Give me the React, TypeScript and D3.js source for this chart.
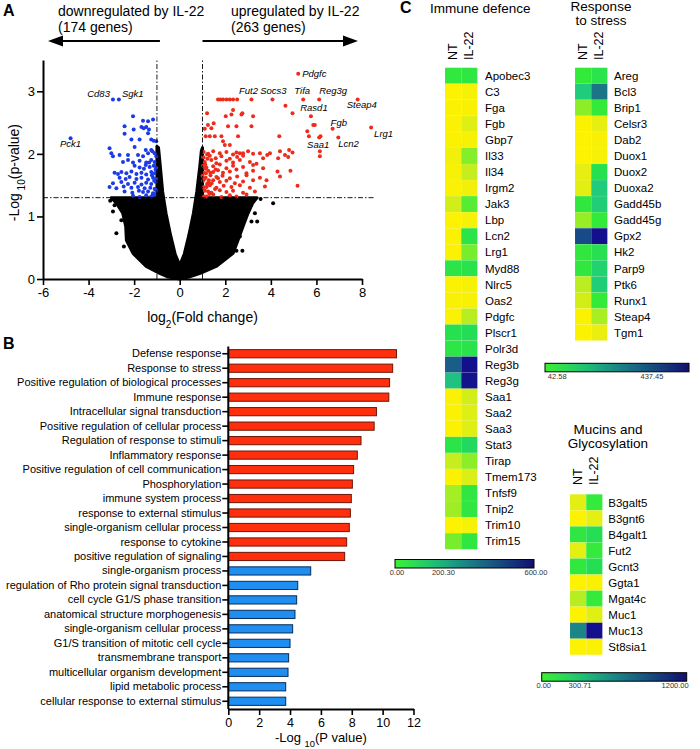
import React, { useEffect, useRef } from 'react';
import * as d3 from 'd3';

const FONT = 'Arial, "Liberation Sans", Helvetica, sans-serif';

// ---------------- A: volcano plot ----------------
const fcTicks = [-6, -4, -2, 0, 2, 4, 6, 8];
const pTicks = [0, 1, 2, 3];
const fcCut = 1;
const pCut = 1.3;

// outline of the dense cloud of non-significant genes [log2 FC, -log10 p]
const cloudOutline: [number, number][] = [
  [0, 0], [-0.5, 0.03], [-0.88, 0.09], [-1.47, 0.2], [-2.05, 0.41], [-2.34, 0.62], [-2.37, 0.84],
  [-2.5, 1.05], [-2.78, 1.21], [-3.0, 1.3], [-1.0, 1.3], [-1.0, 2.12], [-0.93, 2.1], [-0.85, 1.8],
  [-0.75, 1.4], [-0.6, 1.05], [-0.4, 0.7], [-0.2, 0.4], [0, 0.22], [0.2, 0.4], [0.4, 0.7],
  [0.6, 1.05], [0.75, 1.4], [0.88, 1.8], [0.95, 2.05], [1.0, 2.1], [1.0, 1.3], [3.4, 1.3],
  [3.2, 1.21], [3.0, 1.05], [2.78, 0.84], [2.56, 0.62], [2.34, 0.41], [1.6, 0.2], [0.9, 0.09], [0.4, 0.03],
];

// scattered non-significant genes outside the cloud
const otherGenes: [number, number][] = [
  [-2.78, 0.73], [-2.93, 1.08], [-2.86, 1.18], [-2.56, 0.94], [-2.45, 0.52], [-3.05, 1.25], [-2.6, 1.15],
  [4.1, 1.21], [3.15, 0.92], [3.4, 0.92], [2.75, 0.45], [2.49, 0.45], [3.3, 1.05], [2.64, 0.68], [3.55, 1.28],
];

const upGenes: [number, number][] = [
  [1.68, 2.87], [1.79, 2.87], [1.9, 2.87], [2.05, 2.87], [2.2, 2.87], [2.34, 2.87], [2.52, 2.87],
  [4.64, 2.77], [4.95, 2.65], [2.34, 2.7], [2.02, 2.6], [2.27, 2.63], [2.71, 2.63], [3.22, 2.6],
  [1.49, 2.49], [2.12, 2.44], [2.49, 2.44], [3.15, 2.44], [1.2, 2.65], [2.75, 2.65],
  [1.1, 2.4], [1.24, 2.46], [1.39, 2.41], [1.14, 2.28], [1.32, 2.28], [1.54, 2.28], [1.83, 2.28],
  [2.56, 2.28], [4.37, 2.28], [1.9, 2.2], [1.98, 2.14], [2.2, 2.14],
  [5.86, 2.46], [5.93, 2.46], [5.6, 2.36], [5.67, 2.28], [6.18, 2.28], [6.15, 2.04], [6.15, 1.96],
  [2.64, 2.01], [2.78, 2.01], [3.52, 2.01], [3.96, 2.01], [4.4, 2.04], [4.8, 2.06], [3.66, 1.93],
  [3.84, 1.98], [4.32, 1.93], [4.62, 1.98], [4.95, 2.02], [4.76, 1.95], [4.29, 1.72], [4.4, 1.64],
  [4.86, 1.73], [5.17, 1.49], [3.81, 1.58], [3.66, 1.77],
  [1.05, 2.03], [1.25, 2.0], [1.47, 2.04], [1.76, 2.01], [2.05, 2.03], [2.34, 1.99], [2.49, 2.02], [3.0, 2.04], [3.22, 2.0],
  [1.05, 1.94], [1.32, 1.97], [1.58, 1.93], [1.83, 1.96], [2.2, 1.92], [2.52, 1.95], [2.78, 1.97],
  [1.1, 1.87], [1.39, 1.9], [1.61, 1.85], [2.05, 1.89], [2.34, 1.86], [2.64, 1.9], [3.08, 1.87], [3.37, 1.84],
  [1.03, 1.81], [1.17, 1.78], [1.47, 1.8], [1.76, 1.83], [2.05, 1.77], [2.34, 1.81], [2.78, 1.79], [3.22, 1.82],
  [1.05, 1.7], [1.25, 1.73], [1.47, 1.71], [1.68, 1.74], [1.9, 1.7], [2.2, 1.72], [2.49, 1.75], [2.93, 1.69], [3.22, 1.73],
  [1.0, 1.65], [1.14, 1.62], [1.35, 1.66], [1.61, 1.63], [1.88, 1.65], [2.2, 1.61], [2.52, 1.64], [2.93, 1.66], [3.52, 1.62],
  [1.03, 1.57], [1.25, 1.54], [1.47, 1.58], [1.76, 1.55], [2.05, 1.57], [2.42, 1.53], [2.78, 1.56], [3.22, 1.58],
  [1.05, 1.47], [1.32, 1.5], [1.61, 1.46], [1.93, 1.49], [2.27, 1.47], [2.64, 1.5], [3.08, 1.46], [3.74, 1.48],
  [1.1, 1.41], [1.39, 1.38], [1.76, 1.42], [2.05, 1.39], [2.34, 1.41], [2.78, 1.38], [3.3, 1.4],
  [1.17, 1.32], [1.47, 1.35], [1.83, 1.31], [2.2, 1.34], [2.49, 1.32], [2.93, 1.35],
  [1.12, 1.76], [1.2, 1.52], [1.08, 1.6], [1.15, 1.69], [1.22, 1.92], [1.3, 1.36],
  [1.08, 1.42], [1.18, 1.47], [1.28, 1.58], [1.12, 1.83], [1.35, 1.7], [1.02, 1.95], [1.2, 1.99], [1.4, 1.53],
  [1.25, 1.4], [1.07, 1.32], [1.55, 1.44], [1.68, 1.61], [1.58, 1.75],
];

const downGenes: [number, number][] = [
  [-2.05, 2.6], [-1.17, 2.55], [-1.39, 2.52], [-1.61, 2.53], [-2.42, 2.44], [-2.02, 2.39], [-1.68, 2.43],
  [-1.58, 2.41], [-1.47, 2.43], [-1.35, 2.39], [-2.42, 2.32], [-1.39, 2.33], [-2.12, 2.23], [-1.76, 2.23],
  [-1.25, 2.23], [-1.14, 2.21], [-1.03, 2.2], [-3.08, 2.09], [-1.98, 2.11], [-1.49, 2.06], [-1.25, 2.06],
  [-3.0, 2.01], [-2.93, 1.96], [-2.64, 1.98], [-2.27, 1.98], [-1.83, 1.98], [-1.61, 1.96], [-1.39, 2.01],
  [-1.2, 2.04], [-1.1, 2.01], [-1.03, 1.96],
  [-2.49, 1.87], [-2.27, 1.9], [-2.05, 1.86], [-1.76, 1.89], [-1.47, 1.86], [-1.25, 1.9], [-1.1, 1.87],
  [-1.98, 1.81], [-1.76, 1.78], [-1.49, 1.82], [-1.32, 1.79], [-1.14, 1.81], [-1.03, 1.78],
  [-2.86, 1.7], [-2.71, 1.68], [-2.56, 1.71], [-2.34, 1.69], [-2.12, 1.72], [-1.9, 1.68], [-1.68, 1.7], [-1.47, 1.67], [-1.25, 1.71], [-1.1, 1.69],
  [-2.64, 1.62], [-2.37, 1.6], [-2.2, 1.63], [-1.9, 1.6], [-1.68, 1.62], [-1.39, 1.59], [-1.17, 1.62], [-1.03, 1.6],
  [-2.93, 1.53], [-2.56, 1.55], [-2.27, 1.52], [-1.98, 1.54], [-1.68, 1.51], [-1.47, 1.54], [-1.25, 1.52], [-1.05, 1.55],
  [-3.08, 1.47], [-2.78, 1.45], [-2.46, 1.48], [-2.12, 1.46], [-1.83, 1.47], [-1.54, 1.45], [-1.29, 1.46], [-1.1, 1.44],
  [-2.42, 1.4], [-2.08, 1.38], [-1.79, 1.41], [-1.61, 1.39], [-1.39, 1.4], [-1.17, 1.37], [-1.03, 1.41],
  [-2.05, 1.33], [-1.76, 1.31], [-1.47, 1.34], [-1.25, 1.32], [-1.1, 1.35],
  [-1.06, 1.75], [-1.12, 1.57], [-1.08, 1.44], [-1.18, 1.36], [-1.22, 1.66], [-1.34, 1.86], [-1.57, 1.76],
];

const namedGenes = ['Pdgfc', 'Fut2', 'Socs3', 'Tifa', 'Reg3g', 'Steap4', 'Rasd1', 'Fgb', 'Saa1', 'Lcn2', 'Lrg1', 'Pck1', 'Cd83', 'Sgk1'];
const namedFC = [5.2, 3.15, 4.07, 5.42, 6.12, 7.81, 5.76, 6.71, 6.12, 6.96, 8.4, -4.79, -2.93, -2.67];
const namedP = [3.28, 2.87, 2.87, 2.87, 2.87, 2.87, 2.6, 2.4, 2.26, 2.26, 2.42, 2.25, 2.87, 2.87];
// label placement relative to the point
const namedPos: Record<string, [number, number, string]> = {
  Pdgfc: [4, 3, 'start'], Fut2: [-3, -5, 'middle'], Socs3: [1, -5, 'middle'], Tifa: [-1, -5, 'middle'],
  Reg3g: [0, -5, 'start'], Steap4: [-11, 9, 'start'], Rasd1: [3, -5, 'middle'], Fgb: [-2, -3, 'start'],
  Saa1: [-1, 10, 'middle'], Lcn2: [0, 9, 'start'], Lrg1: [3, 9, 'start'], Pck1: [0, 9, 'middle'],
  Cd83: [-3, -2, 'end'], Sgk1: [3, -2, 'start'],
};

// ---------------- B: GO enrichment ----------------
const goTerms = [
  'Defense response', 'Response to stress', 'Positive regulation of biological processes', 'Immune response',
  'Intracellular signal transduction', 'Positive regulation of cellular process', 'Regulation of response to stimuli',
  'Inflammatory response', 'Positive regulation of cell communication', 'Phosphorylation ', 'immune system process',
  'response to external stimulus', 'single-organism cellular process', 'response to cytokine',
  'positive regulation of signaling', 'single-organism process', 'regulation of Rho protein signal transduction',
  'cell cycle G1/S phase transition', 'anatomical structure morphogenesis', 'single-organism cellular process',
  'G1/S transition of mitotic cell cycle', 'transmembrane transport', 'multicellular organism development',
  'lipid metabolic process', 'cellular response to external stimulus',
];
const goScore = [10.9, 10.65, 10.45, 10.4, 9.6, 9.45, 8.6, 8.36, 8.12, 8.04, 7.97, 7.91, 7.84, 7.67, 7.54,
  5.34, 4.5, 4.43, 4.32, 4.17, 4.0, 3.91, 3.87, 3.72, 3.72];
const goDir = ['up', 'up', 'up', 'up', 'up', 'up', 'up', 'up', 'up', 'up', 'up', 'up', 'up', 'up', 'up',
  'down', 'down', 'down', 'down', 'down', 'down', 'down', 'down', 'down', 'down'];
const goTicks = [0, 2, 4, 6, 8, 10, 12];

// ---------------- C: heatmaps ----------------
const conditions = ['NT', 'IL-22'];

const immuneGenes = ['Apobec3', 'C3', 'Fga', 'Fgb', 'Gbp7', 'Il33', 'Il34', 'Irgm2', 'Jak3', 'Lbp', 'Lcn2', 'Lrg1',
  'Myd88', 'Nlrc5', 'Oas2', 'Pdgfc', 'Plscr1', 'Polr3d', 'Reg3b', 'Reg3g', 'Saa1', 'Saa2', 'Saa3', 'Stat3', 'Tirap',
  'Tmem173', 'Tnfsf9', 'Tnip2', 'Trim10', 'Trim15'];
const immuneNT = [90, 2, 3, 4, 3, 12, 6, 4, 30, 2, 3, 4, 100, 3, 5, 4, 110, 98, 380, 190, 4, 3, 3, 100, 36, 4, 50, 52, 2, 66];
const immuneIL22 = [95, 8, 5, 22, 6, 62, 36, 10, 75, 8, 100, 66, 105, 6, 6, 42, 118, 105, 600, 590, 30, 24, 22, 130, 60, 26, 92, 95, 8, 94];
const immuneTicks = [0, 200.3, 600];

const stressGenes = ['Areg', 'Bcl3', 'Brip1', 'Celsr3', 'Dab2', 'Duox1', 'Duox2', 'Duoxa2', 'Gadd45b', 'Gadd45g',
  'Gpx2', 'Hk2', 'Parp9', 'Ptk6', 'Runx1', 'Steap4', 'Tgm1'];
const stressNT = [62, 122, 44, 2, 1, 1, 14, 15, 66, 40, 315, 66, 66, 30, 22, 2, 2];
const stressIL22 = [75, 240, 62, 14, 4, 5, 80, 122, 118, 62, 437.45, 80, 110, 118, 62, 35, 12];
const stressTicks = [42.58, 437.45];

const mucinGenes = ['B3galt5', 'B3gnt6', 'B4galt1', 'Fut2', 'Gcnt3', 'Ggta1', 'Mgat4c', 'Muc1', 'Muc13', 'St8sia1'];
const mucinNT = [42, 5, 190, 40, 180, 5, 84, 5, 600, 5];
const mucinIL22 = [168, 40, 228, 168, 228, 10, 168, 45, 1200, 8];
const mucinTicks = [0, 300.71, 1200];

const heatColor = d3.scaleLinear<string>()
  .domain([0, 0.03, 0.06, 0.1, 0.14, 0.2, 0.3, 0.6, 1])
  .range(['#fff200', '#e8ef10', '#c6ee1e', '#8cee28', '#34ea3a', '#22dc58', '#20c884', '#1a6488', '#140f8c'])
  .clamp(true);
const barColor = d3.interpolateRgbBasis(['#3cf030', '#1ecc78', '#1a8488', '#184c80', '#120f70']);

function addSubText(sel: any, parts: [string, boolean][]) {
  parts.forEach(([t, sub]) => {
    const ts = sel.append('tspan').text(t);
    if (sub) ts.attr('baseline-shift', 'sub').attr('font-size', '0.72em');
  });
}

function styleAxis(g: any, fontSize: number) {
  g.select('.domain').attr('stroke', '#000').attr('stroke-width', 2);
  g.selectAll('.tick line').attr('stroke', '#000').attr('stroke-width', 1.6);
  g.selectAll('.tick text').attr('fill', '#000').attr('font-size', fontSize).attr('font-family', FONT);
}

function drawHeatmap(svg: any, defs: any, id: string, genes: string[], nt: number[], il22: number[],
  lay: any) {
  const max = d3.max(il22.concat(nt)) as number;
  const g = svg.append('g');
  const x = d3.scaleBand().domain(conditions).range([lay.x0, lay.x0 + 32.4]);
  const y = d3.scaleBand().domain(genes).range([lay.y0, lay.y0 + genes.length * 16.05]);
  const cells = genes.flatMap((gene, i) => [
    { gene, cond: 'NT', v: nt[i] },
    { gene, cond: 'IL-22', v: il22[i] },
  ]);
  g.selectAll('rect.cell').data(cells).join('rect')
    .attr('x', (d: any) => x(d.cond))
    .attr('y', (d: any) => y(d.gene))
    .attr('width', x.bandwidth())
    .attr('height', y.bandwidth())
    .attr('fill', (d: any) => heatColor(d.v / max))
    .attr('stroke', 'rgba(255,255,255,0.12)')
    .attr('stroke-width', 0.5);

  g.selectAll('text.gene').data(genes).join('text')
    .attr('x', lay.labelX)
    .attr('y', (d: string) => (y(d) as number) + y.bandwidth() / 2 + 4.2)
    .attr('font-size', 11.5)
    .text((d: string) => d);

  g.selectAll('text.cond').data(conditions).join('text')
    .attr('transform', (d: string) => `translate(${(x(d) as number) + x.bandwidth() / 2 + 3.5},${lay.headY}) rotate(-90)`)
    .attr('font-size', 12.5)
    .text((d: string) => d);

  lay.title.forEach((t: string, i: number) => {
    g.append('text').attr('x', lay.titleX).attr('y', lay.titleY + i * 14.2)
      .attr('text-anchor', lay.titleAnchor).attr('font-size', 13.5).text(t);
  });

  // colour bar
  const cb = d3.scaleLinear().domain(lay.cbDomain).range([lay.cbX0, lay.cbX1]);
  const grad = defs.append('linearGradient').attr('id', id).attr('x1', '0%').attr('x2', '100%');
  d3.range(0, 1.0001, 0.1).forEach((t) => {
    grad.append('stop').attr('offset', `${t * 100}%`).attr('stop-color', barColor(t));
  });
  g.append('rect').attr('x', lay.cbX0).attr('y', lay.cbY).attr('width', lay.cbX1 - lay.cbX0).attr('height', 8.5)
    .attr('fill', `url(#${id})`).attr('stroke', '#000').attr('stroke-width', 1);
  g.selectAll('text.cbt').data(lay.cbTicks).join('text')
    .attr('x', (d: number) => Math.min(cb(d) + 2, 699))
    .attr('y', lay.cbY + 15.5)
    .attr('text-anchor', (d: number) => (cb(d) + 16 > 699 ? 'end' : 'middle'))
    .attr('font-size', 7.5)
    .attr('fill', '#333')
    .text((d: number) => d3.format('.2f')(d));
}

function App() {
  const ref = useRef<SVGSVGElement>(null);

  useEffect(() => {
    const svg = d3.select(ref.current);
    svg.selectAll('*').remove();
    svg.attr('font-family', FONT);
    const defs = svg.append('defs');

    // panel letters
    [['A', 3, 16], ['B', 3, 349], ['C', 400, 12.7]].forEach(([t, x, y]) => {
      svg.append('text').attr('x', x).attr('y', y).attr('font-size', 16).attr('font-weight', 'bold').text(t as string);
    });

    // ---------- A ----------
    const xV = d3.scaleLinear().domain([-6, 8]).range([43, 362]);
    const yV = d3.scaleLinear().domain([0, 3.5]).range([279, 60]);
    const gA = svg.append('g');

    // arrows + captions
    const arrowY = 41;
    gA.append('line').attr('x1', xV(-fcCut) + 3).attr('x2', xV(-6) + 12).attr('y1', arrowY).attr('y2', arrowY)
      .attr('stroke', '#000').attr('stroke-width', 2);
    gA.append('path').attr('d', `M${xV(-6) + 5},${arrowY} l15,-5.5 v11 z`).attr('fill', '#000');
    gA.append('line').attr('x1', xV(fcCut)).attr('x2', xV(8) - 10).attr('y1', arrowY).attr('y2', arrowY)
      .attr('stroke', '#000').attr('stroke-width', 2);
    gA.append('path').attr('d', `M${xV(8) - 4},${arrowY} l-15,-5.5 v11 z`).attr('fill', '#000');
    [['downregulated by IL-22', 58, 15.5], ['(174 genes)', 58, 32], ['upregulated by IL-22', 231, 15.5], ['(263 genes)', 231, 32]]
      .forEach(([t, x, y]) => {
        gA.append('text').attr('x', x).attr('y', y).attr('font-size', 14).text(t as string);
      });

    // cloud
    const cloudLine = d3.line<[number, number]>().x((d) => xV(d[0])).y((d) => yV(d[1])).curve(d3.curveLinearClosed);
    gA.append('path').datum(cloudOutline).attr('d', cloudLine)
      .attr('fill', '#000').attr('stroke', '#000').attr('stroke-width', 3).attr('stroke-linejoin', 'round');
    gA.selectAll('circle.other').data(otherGenes).join('circle')
      .attr('cx', (d) => xV(d[0])).attr('cy', (d) => yV(d[1])).attr('r', 2).attr('fill', '#000');
    gA.selectAll('circle.up').data(upGenes).join('circle')
      .attr('class', 'up')
      .attr('cx', (d) => xV(d[0])).attr('cy', (d) => yV(d[1])).attr('r', 2).attr('fill', '#ee2c1c');
    gA.selectAll('circle.down').data(downGenes).join('circle')
      .attr('class', 'down')
      .attr('cx', (d) => xV(d[0])).attr('cy', (d) => yV(d[1])).attr('r', 2).attr('fill', '#1c3ae6');

    // thresholds
    const dash = '5,2,1.5,2';
    [-fcCut, fcCut].forEach((v) => {
      gA.append('line').attr('x1', xV(v)).attr('x2', xV(v)).attr('y1', yV(0)).attr('y2', yV(3.5))
        .attr('stroke', '#000').attr('stroke-width', 0.9).attr('stroke-dasharray', dash);
    });
    gA.append('line').attr('x1', xV(-6)).attr('x2', xV(8) + 13).attr('y1', yV(pCut)).attr('y2', yV(pCut))
      .attr('stroke', '#000').attr('stroke-width', 0.9).attr('stroke-dasharray', dash);

    // named genes
    namedGenes.forEach((gene, i) => {
      const px = xV(namedFC[i]);
      const py = yV(namedP[i]);
      gA.append('circle').attr('cx', px).attr('cy', py).attr('r', 2).attr('fill', namedFC[i] > 0 ? '#ee2c1c' : '#1c3ae6');
      const [dx, dy, anchor] = namedPos[gene];
      gA.append('text').attr('x', px + dx).attr('y', py + dy).attr('text-anchor', anchor)
        .attr('font-size', 9.5).attr('font-style', 'italic').text(gene);
    });

    const axYv = gA.append('g').attr('transform', `translate(${xV(-6)},0)`)
      .call(d3.axisLeft(yV).tickValues(pTicks).tickSize(6).tickSizeOuter(0).tickPadding(2).tickFormat(d3.format('d')));
    styleAxis(axYv, 13);
    const axXv = gA.append('g').attr('transform', `translate(0,${yV(0)})`)
      .call(d3.axisBottom(xV).tickValues(fcTicks).tickSize(6).tickSizeOuter(0).tickFormat(d3.format('d')));
    styleAxis(axXv, 13);
    axXv.selectAll('.tick text').text((d: any) => (d < 0 ? `-${Math.abs(d)}` : `${d}`));

    const xl = gA.append('text').attr('x', (xV(-6) + xV(8)) / 2).attr('y', 322).attr('text-anchor', 'middle').attr('font-size', 14);
    addSubText(xl, [['log', false], ['2', true], ['(Fold change)', false]]);
    const yl = gA.append('text').attr('transform', `translate(18.5,${yV(1.7)}) rotate(-90)`).attr('text-anchor', 'middle').attr('font-size', 14);
    addSubText(yl, [['-Log', false], [' 10', true], ['(p-value)', false]]);

    // ---------- B ----------
    const gB = svg.append('g');
    const xB = d3.scaleLinear().domain([0, 12]).range([228.3, 413.5]);
    const yB = d3.scaleBand<number>().domain(d3.range(goTerms.length)).range([346.5, 708.5]);
    const barH = 8.2;
    gB.selectAll('rect.go').data(goScore).join('rect')
      .attr('x', xB(0))
      .attr('y', (_d, i) => (yB(i) as number) + (yB.bandwidth() - barH) / 2)
      .attr('width', (d) => xB(d) - xB(0))
      .attr('height', barH)
      .attr('fill', (_d, i) => (goDir[i] === 'up' ? '#ff2e0c' : '#1e8ef0'))
      .attr('stroke', (_d, i) => (goDir[i] === 'up' ? '#6e1608' : '#0a2c58'))
      .attr('stroke-width', 1);
    const axYb = gB.append('g').attr('transform', `translate(${xB(0)},0)`)
      .call(d3.axisLeft(yB).tickSize(6).tickSizeOuter(0).tickPadding(1).tickFormat((i) => goTerms[i as number]));
    styleAxis(axYb, 11);
    axYb.select('.domain').attr('d', `M0,346.5V${yB.range()[1] + 0.5}`);
    const axXb = gB.append('g').attr('transform', `translate(0,${yB.range()[1] + 0.5})`)
      .call(d3.axisBottom(xB).tickValues(goTicks).tickSize(6).tickSizeOuter(0).tickFormat(d3.format('d')));
    styleAxis(axXb, 12.5);
    const bl = gB.append('text').attr('x', (xB(0) + xB(12)) / 2).attr('y', 742).attr('text-anchor', 'middle').attr('font-size', 13);
    addSubText(bl, [['-Log ', false], ['10', true], ['(P value)', false]]);

    // ---------- C ----------
    drawHeatmap(svg, defs, 'cb-immune', immuneGenes, immuneNT, immuneIL22, {
      x0: 445, y0: 67.7, labelX: 485, headY: 60, title: ['Immune defence'], titleX: 430, titleY: 12.7, titleAnchor: 'start',
      cbX0: 395, cbX1: 534, cbY: 559.5, cbDomain: [0, 600], cbTicks: immuneTicks,
    });
    drawHeatmap(svg, defs, 'cb-stress', stressGenes, stressNT, stressIL22, {
      x0: 575, y0: 67.7, labelX: 614, headY: 60, title: ['Response', 'to stress'], titleX: 601, titleY: 11, titleAnchor: 'middle',
      cbX0: 545, cbX1: 689, cbY: 363.3, cbDomain: [0, 600], cbTicks: stressTicks,
    });
    drawHeatmap(svg, defs, 'cb-mucin', mucinGenes, mucinNT, mucinIL22, {
      x0: 570, y0: 494.3, labelX: 608.3, headY: 485, title: ['Mucins and', 'Glycosylation'], titleX: 608, titleY: 434, titleAnchor: 'middle',
      cbX0: 541.7, cbX1: 686.7, cbY: 672.7, cbDomain: [0, 1200], cbTicks: mucinTicks,
    });
  }, []);

  return (
    <svg ref={ref} width={700} height={749} style={{ position: 'absolute', left: 0, top: 0, background: '#fff' }} />
  );
}

export default App;
